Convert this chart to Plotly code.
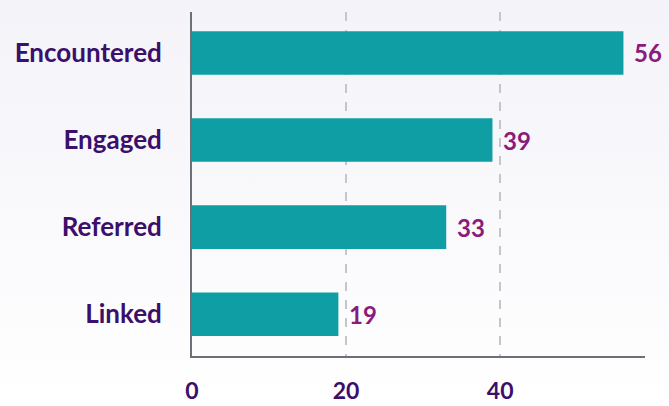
import plotly.graph_objects as go

categories = ["Encountered", "Engaged", "Referred", "Linked"]
values = [56, 39, 33, 19]
tick_vals = [0, 20, 40]
tick_text = ["0", "20", "40"]

BAR = "#0f9ea3"
LABEL = "#3b0f6b"
VALUE = "#8c1a7c"
AXIS = "#6b7079"
FONT = "Lato"

grad_svg = (
    "data:image/svg+xml;utf8,"
    "<svg xmlns='http://www.w3.org/2000/svg' width='10' height='100' preserveAspectRatio='none'>"
    "<defs><linearGradient id='g' x1='0' y1='0' x2='0' y2='1'>"
    "<stop offset='0' stop-color='%23f3f3f9'/><stop offset='1' stop-color='%23ffffff'/>"
    "</linearGradient></defs><rect width='10' height='100' fill='url(%23g)'/></svg>"
)

fig = go.Figure(
    go.Bar(
        x=values,
        y=categories,
        orientation="h",
        marker=dict(color=BAR, line=dict(width=0)),
        width=0.5,
        hoverinfo="skip",
    )
)

for c, v in zip(categories, values):
    fig.add_annotation(
        x=v, y=c, text=str(v), showarrow=False, xanchor="left", yanchor="middle",
        xshift=9, font=dict(family=FONT, size=24, color=VALUE, weight="bold"),
    )

fig.update_layout(
    width=669,
    height=406,
    margin=dict(l=192, r=24, t=12, b=50),
    paper_bgcolor="#ffffff",
    plot_bgcolor="rgba(0,0,0,0)",
    showlegend=False,
    bargap=0.5,
    images=[dict(
        source=grad_svg, xref="paper", yref="paper", x=-0.45, y=1.036,
        sizex=1.55, sizey=1.182, sizing="stretch", xanchor="left", yanchor="top",
        layer="below",
    )],
    xaxis=dict(
        range=[0, 58.8],
        tickvals=tick_vals,
        ticktext=tick_text,
        showgrid=True,
        gridcolor="#c4c6cc",
        gridwidth=1.5,
        griddash="dash",
        zeroline=False,
        showline=True,
        linecolor=AXIS,
        linewidth=2,
        ticks="",
        automargin=False,
        ticklabelstandoff=13,
        tickfont=dict(family=FONT, size=23, color=LABEL, weight="bold"),
    ),
    yaxis=dict(
        categoryorder="array",
        categoryarray=categories[::-1],
        range=[-0.48, 3.47],
        showgrid=False,
        zeroline=False,
        showline=True,
        linecolor=AXIS,
        linewidth=2,
        ticks="",
        automargin=False,
        ticklabelstandoff=23,
        tickfont=dict(family=FONT, size=26, color=LABEL, weight="bold"),
    ),
)

fig.write_html(
    "out.html",
    config={"displayModeBar": False},
    post_script="document.body.style.margin='0';",
)
